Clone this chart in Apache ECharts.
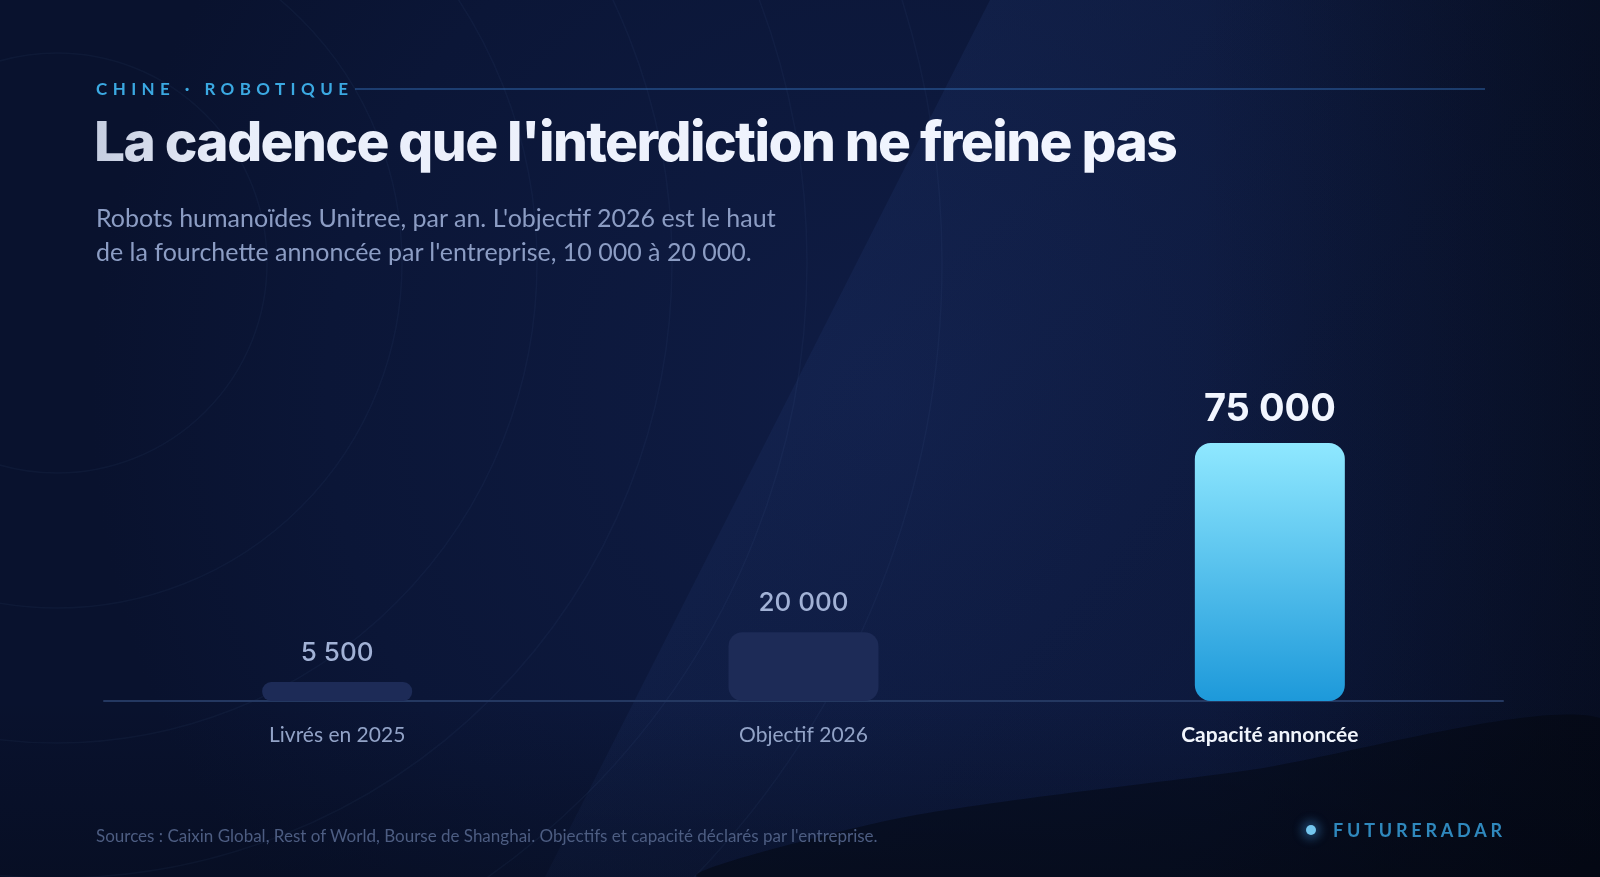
<!DOCTYPE html>
<html>
<head>
<meta charset="utf-8">
<script src="https://cdn.jsdelivr.net/npm/echarts@6/dist/echarts.min.js"></script>
<style>
  html, body { margin: 0; padding: 0; width: 1600px; height: 877px; overflow: hidden; background: #0a1431; }
  #chart { position: absolute; left: 0; top: 0; width: 1600px; height: 877px; }
  .txt { position: absolute; white-space: nowrap; }
  .eyebrow { left: 96px; top: 78px; font: 700 17px Lato, sans-serif; letter-spacing: 5.4px; color: #3ba9e2; }
  .rule { position: absolute; left: 355px; top: 88px; width: 1130px; height: 2px; background: rgba(52,110,185,0.45); }
  .title { left: 94px; top: 108px; font: 800 55px Inter, sans-serif; letter-spacing: -1.6px;
    background: linear-gradient(90deg, #c5cde0 0%, #e9eefa 12%, #f3f6ff 100%);
    -webkit-background-clip: text; background-clip: text; color: transparent; }
  .sub { left: 96px; top: 200px; font: 400 25px/34px Lato, sans-serif; color: #8c9dc4; }
  .source { left: 96px; top: 825px; font: 400 17px Lato, sans-serif; color: #4d5d82; }
  .brand { left: 1333px; top: 819px; font: 700 18px Lato, sans-serif; letter-spacing: 3.8px; color: #2f88bd; }
  .dot { position: absolute; left: 1306px; top: 825px; width: 10px; height: 10px; border-radius: 50%;
    background: #74c6ee; box-shadow: 0 0 8px 5px rgba(60,140,210,0.35); }
</style>
</head>
<body>
<div id="chart"></div>
<div class="txt eyebrow">CHINE · ROBOTIQUE</div>
<div class="rule"></div>
<div class="txt title">La cadence que l'interdiction ne freine pas</div>
<div class="txt sub">Robots humanoïdes Unitree, par an. L'objectif 2026 est le haut<br>de la fourchette annoncée par l'entreprise, 10 000 à 20 000.</div>
<div class="txt source">Sources : Caixin Global, Rest of World, Bourse de Shanghai. Objectifs et capacité déclarés par l'entreprise.</div>
<div class="dot"></div>
<div class="txt brand">FUTURERADAR</div>
<script>
// données
var categories = ['Livrés en 2025', 'Objectif 2026', 'Capacité annoncée'];
var robots = [5500, 20000, 75000];
var highlight = [false, false, true];

var myChart = echarts.init(document.getElementById('chart'));

// 5 500 -> espace comme séparateur de milliers
function fmt(v) {
    return String(v).replace(/\B(?=(\d{3})+(?!\d))/g, ' ');
}

var barData = robots.map(function (v, i) {
    if (highlight[i]) {
        return {
            value: v,
            itemStyle: {
                borderRadius: 16,
                color: new echarts.graphic.LinearGradient(0, 0, 0, 1, [
                    { offset: 0, color: '#8fe8ff' },
                    { offset: 1, color: '#1d99da' }
                ])
            },
            label: { fontSize: 38, fontWeight: 700, color: '#f2f6ff', distance: 14 }
        };
    }
    return {
        value: v,
        itemStyle: { borderRadius: i === 0 ? 9 : 14, color: '#1d2b57' }
    };
});

// décor de fond : cercles concentriques, pan lumineux, ombre en bas à droite
var rings = [210, 345, 480, 615, 750, 885].map(function (r) {
    return {
        type: 'circle', silent: true, z: -9,
        shape: { cx: 57, cy: 263, r: r },
        style: { fill: 'none', stroke: 'rgba(120,150,220,0.05)', lineWidth: 1.5 }
    };
});

var option = {
    backgroundColor: new echarts.graphic.RadialGradient(0.55, 0.45, 0.9, [
        { offset: 0, color: '#0f1c44' },
        { offset: 0.7, color: '#0b1637' },
        { offset: 1, color: '#09122e' }
    ]),
    graphic: [
        {
            type: 'polygon', silent: true, z: -10,
            shape: { points: [[990, 0], [1600, 0], [1600, 877], [545, 877]] },
            style: {
                fill: new echarts.graphic.LinearGradient(0, 0, 1, 1, [
                    { offset: 0, color: 'rgba(45,75,145,0.22)' },
                    { offset: 0.6, color: 'rgba(45,75,145,0.05)' },
                    { offset: 1, color: 'rgba(45,75,145,0.0)' }
                ])
            }
        },
        {
            type: 'rect', silent: true, z: -10,
            shape: { x: 1200, y: 0, width: 400, height: 877 },
            style: {
                fill: new echarts.graphic.LinearGradient(0, 0, 1, 0, [
                    { offset: 0, color: 'rgba(4,8,18,0)' },
                    { offset: 1, color: 'rgba(4,8,18,0.45)' }
                ])
            }
        },
        {
            type: 'rect', silent: true, z: -10,
            shape: { x: 0, y: 700, width: 1600, height: 177 },
            style: {
                fill: new echarts.graphic.LinearGradient(0, 0, 0, 1, [
                    { offset: 0, color: 'rgba(4,8,18,0)' },
                    { offset: 1, color: 'rgba(4,8,18,0.35)' }
                ])
            }
        },
        {
            type: 'polygon', silent: true, z: -8,
            shape: {
                points: [[700, 877], [900, 818], [1250, 770], [1600, 718], [1600, 877]],
                smooth: 0.25
            },
            style: { fill: 'rgba(2,4,10,0.42)' }
        }
    ].concat(rings),
    grid: {
        left: 104,
        right: 97,
        top: 357,
        bottom: 176
    },
    xAxis: {
        type: 'category',
        data: categories,
        axisTick: { show: false },
        axisLine: { lineStyle: { color: '#243861', width: 2 } },
        axisLabel: {
            margin: 24,
            fontFamily: 'Lato',
            fontSize: 21,
            color: '#92a3c7',
            rich: {
                hl: { fontFamily: 'Lato', fontSize: 21, fontWeight: 700, color: '#f1f5fc' }
            },
            formatter: function (v, i) {
                return highlight[i] ? '{hl|' + v + '}' : v;
            }
        }
    },
    yAxis: {
        type: 'value',
        min: 0,
        max: 100000,
        show: false,
        splitLine: { show: false }
    },
    series: [{
        type: 'bar',
        barWidth: 150,
        data: barData,
        label: {
            show: true,
            position: 'top',
            distance: 16,
            fontFamily: 'Inter',
            fontSize: 26,
            fontWeight: 500,
            color: '#a2b2d6',
            formatter: function (p) { return fmt(p.value); }
        }
    }]
};

myChart.setOption(option);
</script>
</body>
</html>
